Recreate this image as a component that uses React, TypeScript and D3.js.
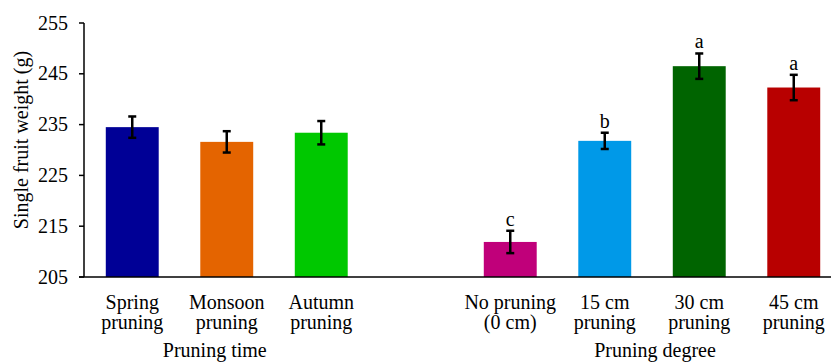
import { useEffect, useRef } from 'react';
import * as d3 from 'd3';

// Pruning time group
const timeLabels = [['Spring', 'pruning'], ['Monsoon', 'pruning'], ['Autumn', 'pruning']];
const timeMeans = [234.5, 231.6, 233.4];
const timeErrors = [2.1, 2.1, 2.3];
const timeColors = ['#000096', '#e46400', '#00c800'];

// Pruning degree group
const degreeLabels = [['No pruning', '(0 cm)'], ['15 cm', 'pruning'], ['30 cm', 'pruning'], ['45 cm', 'pruning']];
const degreeMeans = [211.9, 231.8, 246.5, 242.3];
const degreeErrors = [2.2, 1.6, 2.5, 2.5];
const degreeLetters = ['c', 'b', 'a', 'a'];
const degreeColors = ['#c0007a', '#0099e8', '#006400', '#b80000'];

const yTicks = [205, 215, 225, 235, 245, 255];
const groupTitles = ['Pruning time', 'Pruning degree'];

const W = 831;
const H = 363;
const FONT = '"Liberation Serif", "Times New Roman", serif';

export default function App() {
  const svgRef = useRef<SVGSVGElement>(null);

  useEffect(() => {
    document.body.style.margin = '0';
    const svg = d3.select(svgRef.current);
    svg.selectAll('*').remove();

    // build rows, with one empty slot between the groups
    const rows = [
      ...timeLabels.map((l, i) => ({ id: 't' + i, group: 0, label: l, mean: timeMeans[i], err: timeErrors[i], color: timeColors[i], letter: '' })),
      ...degreeLabels.map((l, i) => ({ id: 'd' + i, group: 1, label: l, mean: degreeMeans[i], err: degreeErrors[i], color: degreeColors[i], letter: degreeLetters[i] })),
    ];
    const domain = [...rows.filter(r => r.group === 0).map(r => r.id), 'gap', ...rows.filter(r => r.group === 1).map(r => r.id)];

    const x = d3.scaleBand().domain(domain).range([85, 841]).paddingInner(0.44).paddingOuter(0.22);
    const y = d3.scaleLinear().domain([205, 255]).range([277, 23]);
    const axisX0 = 84;

    const g = svg.append('g');

    // bars
    g.selectAll('rect.bar')
      .data(rows)
      .join('rect')
      .attr('class', 'bar')
      .attr('x', d => x(d.id)!)
      .attr('width', x.bandwidth())
      .attr('y', d => y(d.mean))
      .attr('height', d => y(205) - y(d.mean))
      .attr('fill', d => d.color);

    // error bars
    const eb = g.selectAll('g.err').data(rows).join('g').attr('class', 'err')
      .attr('stroke', '#000').attr('stroke-width', 2.5);
    const cx = (d: any) => x(d.id)! + x.bandwidth() / 2;
    eb.append('line')
      .attr('x1', cx).attr('x2', cx)
      .attr('y1', d => y(d.mean + d.err)).attr('y2', d => y(d.mean - d.err));
    eb.append('line')
      .attr('x1', d => cx(d) - 4).attr('x2', d => cx(d) + 4)
      .attr('y1', d => y(d.mean + d.err)).attr('y2', d => y(d.mean + d.err));
    eb.append('line')
      .attr('x1', d => cx(d) - 4).attr('x2', d => cx(d) + 4)
      .attr('y1', d => y(d.mean - d.err)).attr('y2', d => y(d.mean - d.err));

    // significance letters
    g.selectAll('text.letter')
      .data(rows.filter(r => r.letter))
      .join('text')
      .attr('class', 'letter')
      .attr('x', cx)
      .attr('y', d => y(d.mean + d.err) - 5)
      .attr('text-anchor', 'middle')
      .attr('font-family', FONT)
      .attr('font-size', 20)
      .attr('fill', '#000')
      .text(d => d.letter);

    // axes
    g.append('line').attr('x1', axisX0).attr('x2', axisX0).attr('y1', y(255)).attr('y2', y(205))
      .attr('stroke', '#000').attr('stroke-width', 1.5);
    g.append('line').attr('x1', axisX0 - 5).attr('x2', W).attr('y1', y(205)).attr('y2', y(205))
      .attr('stroke', '#000').attr('stroke-width', 1.5);

    g.selectAll('line.tick').data(yTicks).join('line').attr('class', 'tick')
      .attr('x1', axisX0 - 5).attr('x2', axisX0)
      .attr('y1', d => y(d)).attr('y2', d => y(d))
      .attr('stroke', '#000').attr('stroke-width', 1.5);

    g.selectAll('text.ytick').data(yTicks).join('text').attr('class', 'ytick')
      .attr('x', 68).attr('y', d => y(d)).attr('dy', '0.33em')
      .attr('text-anchor', 'end')
      .attr('font-family', FONT).attr('font-size', 20).attr('fill', '#000')
      .text(d => d);

    // category labels
    const cl = g.selectAll('text.cat').data(rows).join('text').attr('class', 'cat')
      .attr('text-anchor', 'middle')
      .attr('font-family', FONT).attr('font-size', 20).attr('fill', '#000');
    cl.append('tspan').attr('x', cx).attr('y', 308.5).text(d => d.label[0]);
    cl.append('tspan').attr('x', cx).attr('y', 329).text(d => d.label[1]);

    // group titles
    groupTitles.forEach((t, gi) => {
      const centers = rows.filter(r => r.group === gi).map(cx);
      g.append('text')
        .attr('x', d3.mean(centers)! - (gi === 0 ? 12 : -3))
        .attr('y', 356.5)
        .attr('text-anchor', 'middle')
        .attr('font-family', FONT).attr('font-size', 20).attr('fill', '#000')
        .text(t);
    });

    // y title
    g.append('text')
      .attr('transform', 'translate(28,140) rotate(-90)')
      .attr('text-anchor', 'middle')
      .attr('font-family', FONT).attr('font-size', 20).attr('fill', '#000')
      .text('Single fruit weight (g)');
  }, []);

  return (
    <svg
      ref={svgRef}
      width={W}
      height={H}
      style={{ position: 'absolute', left: 0, top: 0, background: '#fff' }}
    />
  );
}
